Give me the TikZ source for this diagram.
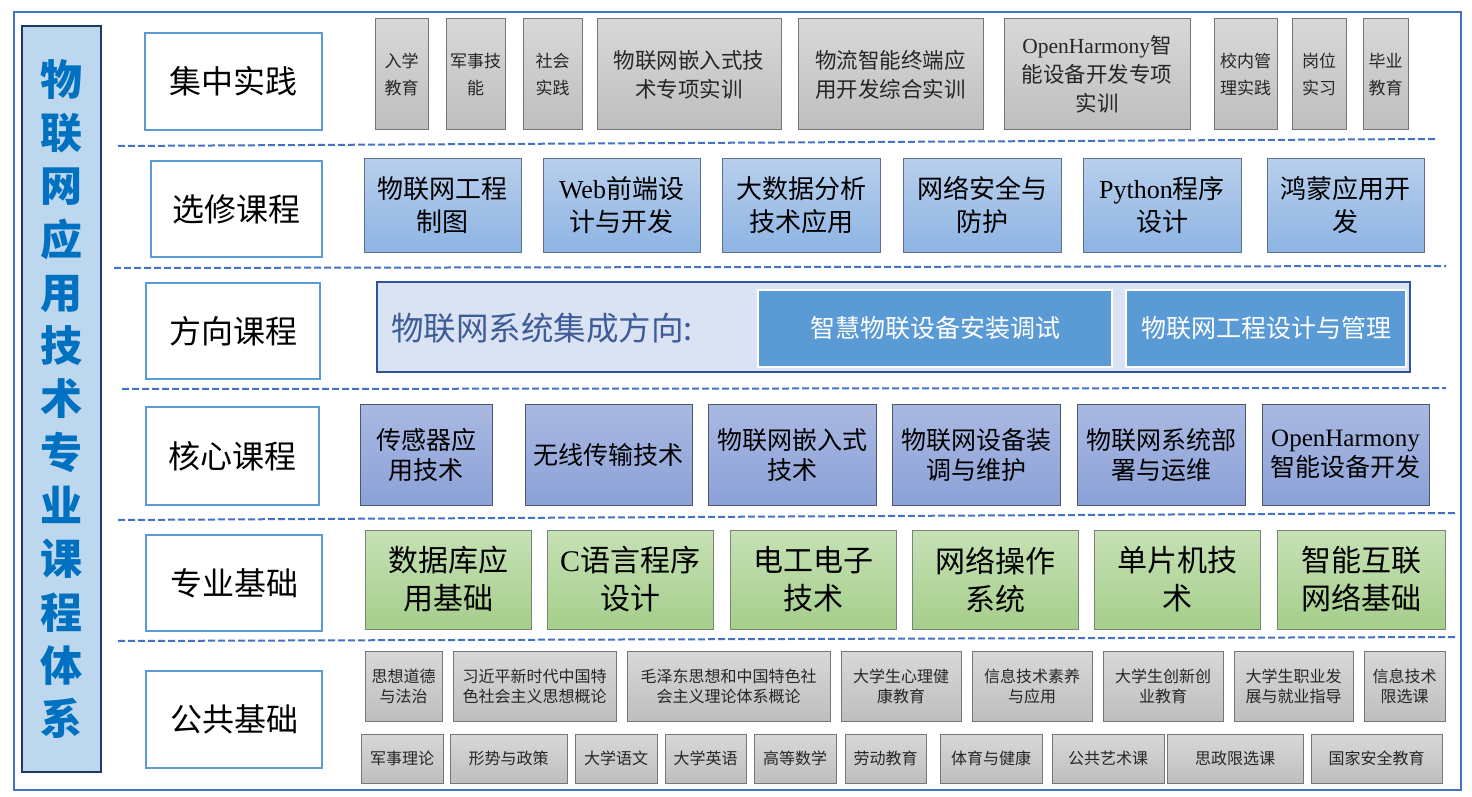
\documentclass[tikz,border=0pt]{standalone}
\usepackage{fontspec}
\setmainfont{Liberation Serif}
\newfontfamily\cjk{Noto Sans CJK SC}
\newfontfamily\lat{Liberation Serif}
\definecolor{framec}{RGB}{68,114,196}
\definecolor{catc}{RGB}{91,155,213}
\definecolor{titlefill}{RGB}{189,215,238}
\definecolor{titleb}{RGB}{31,56,100}
\definecolor{titlet}{RGB}{0,112,192}
\definecolor{gtop}{RGB}{216,216,216}
\definecolor{gbot}{RGB}{190,190,190}
\definecolor{gbord}{RGB}{118,118,118}
\definecolor{gtext}{RGB}{38,38,38}
\definecolor{stop}{RGB}{184,207,236}
\definecolor{sbot}{RGB}{142,180,227}
\definecolor{sbord}{RGB}{95,112,140}
\definecolor{ctop}{RGB}{170,185,226}
\definecolor{cbot}{RGB}{139,161,215}
\definecolor{cbord}{RGB}{78,86,108}
\definecolor{btop}{RGB}{198,225,181}
\definecolor{bbot}{RGB}{165,206,139}
\definecolor{bbord}{RGB}{122,132,118}
\definecolor{dirfill}{RGB}{218,227,243}
\definecolor{dirb}{RGB}{47,85,151}
\definecolor{dirt}{RGB}{62,92,150}
\definecolor{inner}{RGB}{91,155,213}
\definecolor{sepc}{RGB}{68,114,196}
\newcommand\mybox[7]{\node[#6, minimum width={#4pt-#2pt}, minimum height={#5pt-#3pt}] (#1) at ({(#2+#4)/2},{(#3+#5)/2}) {#7};}
\tikzset{
  every node/.style={inner sep=0pt, align=center},
  frm/.style={draw=framec, line width=2.5pt},
  ttl/.style={draw=titleb, line width=1.2pt, fill=titlefill, text=titlet, font={\cjk\bfseries\fontsize{42}{53.3}\selectfont}},
  cat/.style={draw=catc, line width=1.5pt, fill=white, font={\cjk\fontsize{32}{38}\selectfont}},
  gsm/.style={draw=gbord, line width=1pt, top color=gtop, bottom color=gbot, text=gtext, font={\cjk\fontsize{17}{27}\selectfont}},
  gmd/.style={gsm, font={\cjk\fontsize{21.5}{29}\selectfont}},
  pub/.style={gsm, font={\cjk\fontsize{16}{20}\selectfont}},
  sel/.style={draw=sbord, line width=1pt, top color=stop, bottom color=sbot, font={\cjk\fontsize{26}{33}\selectfont}},
  core/.style={draw=cbord, line width=1pt, top color=ctop, bottom color=cbot, font={\cjk\fontsize{25}{30}\selectfont}},
  base/.style={draw=bbord, line width=1pt, top color=btop, bottom color=bbot, font={\cjk\fontsize{30}{38}\selectfont}},
  dirbox/.style={draw=dirb, line width=2pt, fill=dirfill},
  innerbox/.style={draw=white, line width=2pt, fill=inner, text=white, font={\cjk\fontsize{25}{30}\selectfont}},
  sepline/.style={draw=sepc, line width=2pt, dash pattern=on 7pt off 3pt}
}
\begin{document}
\begin{tikzpicture}[x=1pt,y=-1pt]
\useasboundingbox (0,0) rectangle (1472,797);
\fill[white] (0,0) rectangle (1472,797);
% frame and title
\mybox{frame}{14}{12}{1461}{790}{frm}{}
\mybox{title}{22}{26}{101}{772}{ttl}{物\\联\\网\\应\\用\\技\\术\\专\\业\\课\\程\\体\\系}
% separators
\coordinate (d1a) at (118,146); \coordinate (d1b) at (1436,139);
\coordinate (d2a) at (114,268); \coordinate (d2b) at (1446,266);
\coordinate (d3a) at (122,389); \coordinate (d3b) at (1446,388);
\coordinate (d4a) at (118,520); \coordinate (d4b) at (1457,513);
\coordinate (d5a) at (118,641); \coordinate (d5b) at (1455,637);
\draw[sepline] (d1a) -- (d1b);
\draw[sepline] (d2a) -- (d2b);
\draw[sepline] (d3a) -- (d3b);
\draw[sepline] (d4a) -- (d4b);
\draw[sepline] (d5a) -- (d5b);
% category labels
\mybox{c1}{145}{33}{322}{130}{cat}{集中实践}
\mybox{c2}{151}{161}{322}{257}{cat}{选修课程}
\mybox{c3}{146}{283}{320}{379}{cat}{方向课程}
\mybox{c4}{146}{407}{319}{505}{cat}{核心课程}
\mybox{c5}{146}{535}{322}{631}{cat}{专业基础}
\mybox{c6}{146}{671}{322}{768}{cat}{公共基础}
% row 1
\mybox{r1a}{375}{19}{428}{130}{gsm}{入学\\教育}
\mybox{r1b}{446}{19}{505}{130}{gsm}{军事技\\能}
\mybox{r1c}{523}{19}{582}{130}{gsm}{社会\\实践}
\mybox{r1d}{597}{19}{781}{130}{gmd}{物联网嵌入式技\\术专项实训}
\mybox{r1e}{798}{19}{983}{130}{gmd}{物流智能终端应\\用开发综合实训}
\mybox{r1f}{1004}{19}{1190}{130}{gmd}{{\lat OpenHarmony}智\\能设备开发专项\\实训}
\mybox{r1g}{1214}{19}{1277}{130}{gsm}{校内管\\理实践}
\mybox{r1h}{1292}{19}{1346}{130}{gsm}{岗位\\实习}
\mybox{r1i}{1363}{19}{1408}{130}{gsm}{毕业\\教育}
% row 2
\mybox{r2a}{364}{158}{521}{252}{sel}{物联网工程\\制图}
\mybox{r2b}{543}{158}{700}{252}{sel}{{\lat Web}前端设\\计与开发}
\mybox{r2c}{722}{158}{880}{252}{sel}{大数据分析\\技术应用}
\mybox{r2d}{903}{158}{1061}{252}{sel}{网络安全与\\防护}
\mybox{r2e}{1083}{158}{1241}{252}{sel}{{\lat Python}程序\\设计}
\mybox{r2f}{1267}{158}{1424}{252}{sel}{鸿蒙应用开\\发}
% row 3
\mybox{dir}{377}{282}{1410}{372}{dirbox}{}
\node[anchor=west, text=dirt, font={\cjk\fontsize{32.5}{38}\selectfont}] (dirlabel) at (391,328) {物联网系统集成方向:};
\mybox{r3a}{758}{290}{1112}{367}{innerbox}{智慧物联设备安装调试}
\mybox{r3b}{1126}{290}{1406}{367}{innerbox}{物联网工程设计与管理}
% row 4
\mybox{r4a}{360}{404}{492}{505}{core}{传感器应\\用技术}
\mybox{r4b}{525}{404}{692}{505}{core}{无线传输技术}
\mybox{r4c}{708}{404}{876}{505}{core}{物联网嵌入式\\技术}
\mybox{r4d}{892}{404}{1060}{505}{core}{物联网设备装\\调与维护}
\mybox{r4e}{1077}{404}{1245}{505}{core}{物联网系统部\\署与运维}
\mybox{r4f}{1262}{404}{1429}{505}{core}{{\lat OpenHarmony}\\智能设备开发}
% row 5
\mybox{r5a}{365}{530}{531}{629}{base}{数据库应\\用基础}
\mybox{r5b}{547}{530}{713}{629}{base}{{\lat C}语言程序\\设计}
\mybox{r5c}{730}{530}{896}{629}{base}{电工电子\\技术}
\mybox{r5d}{912}{530}{1078}{629}{base}{网络操作\\系统}
\mybox{r5e}{1094}{530}{1260}{629}{base}{单片机技\\术}
\mybox{r5f}{1277}{530}{1445}{629}{base}{智能互联\\网络基础}
% row 6a
\mybox{p1}{365}{651}{442}{721}{pub}{思想道德\\与法治}
\mybox{p2}{453}{651}{616}{721}{pub}{习近平新时代中国特\\色社会主义思想概论}
\mybox{p3}{627}{651}{830}{721}{pub}{毛泽东思想和中国特色社\\会主义理论体系概论}
\mybox{p4}{841}{651}{961}{721}{pub}{大学生心理健\\康教育}
\mybox{p5}{972}{651}{1092}{721}{pub}{信息技术素养\\与应用}
\mybox{p6}{1103}{651}{1223}{721}{pub}{大学生创新创\\业教育}
\mybox{p7}{1234}{651}{1353}{721}{pub}{大学生职业发\\展与就业指导}
\mybox{p8}{1364}{651}{1445}{721}{pub}{信息技术\\限选课}
% row 6b
\mybox{q1}{361}{734}{443}{783}{pub}{军事理论}
\mybox{q2}{450}{734}{567}{783}{pub}{形势与政策}
\mybox{q3}{575}{734}{657}{783}{pub}{大学语文}
\mybox{q4}{665}{734}{746}{783}{pub}{大学英语}
\mybox{q5}{754}{734}{836}{783}{pub}{高等数学}
\mybox{q6}{845}{734}{926}{783}{pub}{劳动教育}
\mybox{q7}{940}{734}{1042}{783}{pub}{体育与健康}
\mybox{q8}{1052}{734}{1164}{783}{pub}{公共艺术课}
\mybox{q9}{1167}{734}{1303}{783}{pub}{思政限选课}
\mybox{q10}{1311}{734}{1442}{783}{pub}{国家安全教育}
\end{tikzpicture}
\end{document}
